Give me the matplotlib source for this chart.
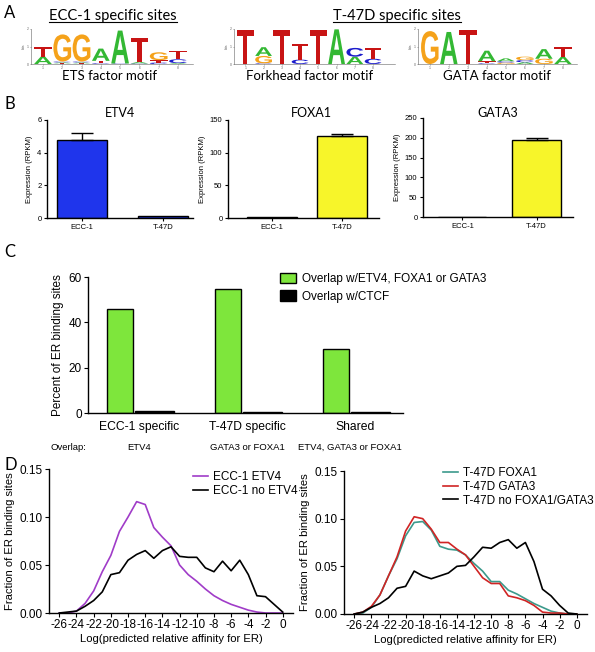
import matplotlib
matplotlib.use('Agg')
import matplotlib.pyplot as plt
import matplotlib.transforms as mtransforms
from matplotlib.textpath import TextPath
from matplotlib.font_manager import FontProperties
from matplotlib.patches import PathPatch
from matplotlib.lines import Line2D

plt.rcParams['font.family'] = ['Liberation Sans', 'DejaVu Sans']
plt.rcParams['axes.unicode_minus'] = False

# ---- panel A: motif logos (letters bottom -> top, heights in bits)
ets_letters = [['A', 'T'], ['T', 'A', 'C', 'G'], ['T', 'A', 'C', 'G'], ['C', 'T', 'A'],
               ['C', 'A'], ['C', 'A', 'T'], ['C', 'T', 'G'], ['A', 'C', 'T']]
ets_heights = [[0.42, 0.55], [0.04, 0.05, 0.05, 1.55], [0.04, 0.05, 0.05, 1.55], [0.04, 0.14, 0.7],
               [0.03, 1.88], [0.03, 0.08, 1.38], [0.08, 0.14, 0.45], [0.05, 0.22, 0.48]]
fkh_letters = [['T'], ['C', 'G', 'A'], ['T'], ['C', 'T'], ['T'], ['A'], ['A', 'C'], ['C', 'T']]
fkh_heights = [[1.94], [0.04, 0.42, 0.5], [1.94], [0.25, 0.9], [1.94], [1.98], [0.42, 0.5], [0.3, 0.6]]
gata_letters = [['G'], ['A'], ['T'], ['C', 'T', 'A'], ['G', 'C', 'A'], ['A', 'C', 'G'], ['G', 'A'], ['A', 'T']]
gata_heights = [[1.88], [1.83], [1.96], [0.04, 0.12, 0.6], [0.08, 0.08, 0.16], [0.1, 0.12, 0.2],
                [0.3, 0.55], [0.4, 0.55]]
base_colors = {'A': '#33b833', 'C': '#1c1ccc', 'G': '#f5a21a', 'T': '#c81414'}

# ---- panel B: expression
groups_b = ['ECC-1', 'T-47D']
etv4_vals = [4.8, 0.1]
etv4_err = [0.4, 0.0]
foxa1_vals = [2.0, 125.0]
foxa1_err = [0.0, 3.0]
gata3_vals = [0.3, 195.0]
gata3_err = [0.0, 4.0]

# ---- panel C: overlap
groups_c = ['ECC-1 specific', 'T-47D specific', 'Shared']
overlap_c = ['ETV4', 'GATA3 or FOXA1', 'ETV4, GATA3 or FOXA1']
tf_overlap = [46.0, 54.5, 28.3]
ctcf_overlap = [0.8, 0.6, 0.3]

# ---- panel D: affinity distributions
affinity = list(range(-26, 1))
ecc_etv4 = [0, 0, 0.002, 0.01, 0.023, 0.043, 0.06, 0.085, 0.10, 0.116, 0.113, 0.089, 0.079,
            0.07, 0.05, 0.04, 0.033, 0.025, 0.018, 0.013, 0.009, 0.006, 0.003, 0.001, 0, 0, 0]
ecc_no_etv4 = [0, 0.001, 0.002, 0.007, 0.013, 0.022, 0.040, 0.042, 0.055, 0.061, 0.065, 0.057,
               0.065, 0.069, 0.059, 0.058, 0.058, 0.047, 0.043, 0.054, 0.044, 0.055, 0.040,
               0.018, 0.017, 0.009, 0.001]
t47d_foxa1 = [0, 0.001, 0.007, 0.02, 0.04, 0.058, 0.082, 0.096, 0.097, 0.088, 0.071, 0.068,
              0.067, 0.062, 0.053, 0.045, 0.034, 0.034, 0.025, 0.021, 0.016, 0.011, 0.007,
              0.003, 0.001, 0, 0]
t47d_gata3 = [0, 0.002, 0.008, 0.02, 0.04, 0.06, 0.087, 0.102, 0.1, 0.089, 0.075, 0.075,
              0.068, 0.062, 0.05, 0.038, 0.032, 0.032, 0.019, 0.017, 0.014, 0.009, 0.002,
              0.001, 0.001, 0, 0]
t47d_none = [0, 0.002, 0.007, 0.011, 0.017, 0.027, 0.029, 0.045, 0.040, 0.037, 0.040, 0.043,
             0.050, 0.051, 0.060, 0.070, 0.069, 0.075, 0.078, 0.069, 0.075, 0.055, 0.026,
             0.019, 0.009, 0.001, 0]

W, H = 595, 652
fig = plt.figure(figsize=(W / 100, H / 100), dpi=100)


def px_axes(l, t, r, b):
    return fig.add_axes([l / W, 1 - b / H, (r - l) / W, (b - t) / H])


def ftext(x, y, s, **kw):
    return fig.text(x / W, 1 - y / H, s, **kw)


calibri = ['Lato', 'DejaVu Sans']

# panel letters
for lab, y in [('A', 13), ('B', 104), ('C', 252), ('D', 465)]:
    ftext(4, y, lab, family=calibri, fontsize=12, va='center', ha='left')

# ---------------- A
logo_fp = FontProperties(family='Liberation Sans', weight='bold')


def draw_letter(ax, ch, x, y, h):
    tp = TextPath((0, 0), ch, size=1, prop=logo_fp)
    bb = tp.get_extents()
    tr = (mtransforms.Affine2D().translate(-bb.x0, -bb.y0)
          .scale(0.92 / bb.width, h / bb.height).translate(x - 0.46, y))
    ax.add_patch(PathPatch(tr.transform_path(tp), fc=base_colors[ch], ec='none'))


def draw_logo(ax, letters, heights, xmax):
    for i, (ls, hs) in enumerate(zip(letters, heights)):
        y0 = 0
        for ch, h in zip(ls, hs):
            draw_letter(ax, ch, i + 1, y0, h)
            y0 += h
    ax.set_xlim(0.38, xmax)
    ax.set_ylim(0, 2)
    for s in ['top', 'right']:
        ax.spines[s].set_visible(False)
    for s in ['left', 'bottom']:
        ax.spines[s].set_linewidth(0.4)
        ax.spines[s].set_color('#666666')
    ax.set_yticks([0, 1, 2])
    ax.set_xticks(range(1, len(letters) + 1))
    ax.tick_params(labelsize=2.5, length=1, width=0.4, colors='#666666', pad=0.5)
    ax.set_ylabel('bits', fontsize=2.5, labelpad=0.5, color='#666666')


ax = px_axes(31, 29, 193, 64)
draw_logo(ax, ets_letters, ets_heights, 8.78)
ax = px_axes(234, 29, 395, 64)
draw_logo(ax, fkh_letters, fkh_heights, 9.2)
ax = px_axes(418, 29, 577, 64)
draw_logo(ax, gata_letters, gata_heights, 8.74)

ftext(110, 76, 'ETS factor motif', family=calibri, fontsize=9.5, ha='center', va='center')
ftext(310, 76, 'Forkhead factor motif', family=calibri, fontsize=9.5, ha='center', va='center')
ftext(497, 76, 'GATA factor motif', family=calibri, fontsize=9.5, ha='center', va='center')
titles = [ftext(113, 16, 'ECC-1 specific sites', family=calibri, fontsize=10.5, ha='center', va='center'),
          ftext(397, 16, 'T-47D specific sites', family=calibri, fontsize=10.5, ha='center', va='center')]
fig.canvas.draw()
inv = fig.transFigure.inverted()
for t in titles:
    bb = t.get_window_extent().transformed(inv)
    fig.add_artist(Line2D([bb.x0, bb.x1], [bb.y0 + 0.001, bb.y0 + 0.001], transform=fig.transFigure,
                          color='black', lw=0.8))


# ---------------- B
def expr_panel(box, vals, errs, color, ylim, yticks, title, xlim, width, title_x):
    ax = px_axes(*box)
    ax.bar(range(len(groups_b)), vals, width=width, color=color, edgecolor='black', linewidth=1.0)
    for i, (v, e) in enumerate(zip(vals, errs)):
        if e > 0:
            ax.errorbar(i, v, yerr=[[0], [e]], color='black', lw=1.0, capsize=8, capthick=1.0)
    ax.set_xlim(*xlim)
    ax.set_ylim(*ylim)
    ax.set_yticks(yticks)
    ax.set_xticks(range(len(groups_b)))
    ax.set_xticklabels(groups_b)
    for s in ['top', 'right']:
        ax.spines[s].set_visible(False)
    for s in ['left', 'bottom']:
        ax.spines[s].set_linewidth(1.0)
    ax.tick_params(labelsize=5.5, length=2.5, width=0.8, pad=1.5)
    ax.set_ylabel('Expression (RPKM)', fontsize=5.5, labelpad=3)
    ftext(title_x, 113, title, family=calibri, fontsize=9, ha='center', va='center')
    return ax


expr_panel((47, 120, 193, 218), etv4_vals, etv4_err, '#1f35ec', (0, 6), [0, 2, 4, 6], 'ETV4',
           (-0.43, 1.37), 0.62, 120)
expr_panel((228, 120, 379, 218), foxa1_vals, foxa1_err, '#f7f52a', (0, 150), [0, 50, 100, 150], 'FOXA1',
           (-0.63, 1.53), 0.71, 311)
expr_panel((423, 118, 573, 217), gata3_vals, gata3_err, '#f7f52a', (0, 250), [0, 50, 100, 150, 200, 250],
           'GATA3', (-0.53, 1.49), 0.65, 498)

# ---------------- C
ax = px_axes(88, 277, 403, 413)
xc = list(range(len(groups_c)))
ax.bar([x - 0.176 for x in xc], tf_overlap, width=0.24, color='#7ee63c', edgecolor='black', linewidth=1.0,
       label='Overlap w/ETV4, FOXA1 or GATA3')
ax.bar([x + 0.14 for x in xc], ctcf_overlap, width=0.36, color='black', edgecolor='black', linewidth=1.0,
       label='Overlap w/CTCF')
ax.set_xlim(-0.47, 2.44)
ax.set_ylim(0, 60)
ax.set_yticks([0, 20, 40, 60])
ax.set_xticks(xc)
ax.set_xticklabels(groups_c, fontsize=8.7)
for s in ['top', 'right']:
    ax.spines[s].set_visible(False)
for s in ['left', 'bottom']:
    ax.spines[s].set_linewidth(1.0)
ax.tick_params(axis='y', labelsize=8.5, length=3, width=0.8, pad=1.5)
ax.tick_params(axis='x', length=0, pad=6)
ax.set_ylabel('Percent of ER binding sites', fontsize=8.5, labelpad=3)
ax.legend(loc='upper left', bbox_to_anchor=(280 / W, 1 - 272.5 / H), bbox_transform=fig.transFigure,
          borderaxespad=0, borderpad=0, frameon=False, fontsize=8.5, handlelength=1.35, handleheight=0.93,
          handletextpad=0.5, labelspacing=0.5)
ftext(50, 447, 'Overlap:', fontsize=6.8, ha='left', va='center')
for x, s in zip([139, 247, 350], overlap_c):
    ftext(x, 447, s, fontsize=6.8, ha='center', va='center')


# ---------------- D
def dist_panel(box, series, legend_xy):
    ax = px_axes(*box)
    for ys, c, lab in series:
        ax.plot(affinity, ys, color=c, lw=1.2, label=lab)
    ax.set_xlim(-27.2, 1.2)
    ax.set_ylim(0, 0.15)
    ax.set_yticks([0, 0.05, 0.10, 0.15])
    ax.set_yticklabels(['0.00', '0.05', '0.10', '0.15'])
    ax.set_xticks(range(-26, 1, 2))
    for s in ['top', 'right']:
        ax.spines[s].set_visible(False)
    for s in ['left', 'bottom']:
        ax.spines[s].set_linewidth(1.0)
    ax.tick_params(labelsize=8.5, length=3, width=0.8, pad=1.5)
    ax.set_xlabel('Log(predicted relative affinity for ER)', fontsize=8.1, labelpad=2)
    ax.set_ylabel('Fraction of ER binding sites', fontsize=8.1, labelpad=3)
    ax.legend(loc='upper left', bbox_to_anchor=(legend_xy[0] / W, 1 - legend_xy[1] / H),
              bbox_transform=fig.transFigure, borderaxespad=0, borderpad=0, frameon=False, fontsize=8.5,
              handlelength=1.3, handletextpad=0.4, labelspacing=0.15)


dist_panel((49, 469, 293, 613), [(ecc_etv4, '#a03cc8', 'ECC-1 ETV4'),
                                 (ecc_no_etv4, 'black', 'ECC-1 no ETV4')], (193, 471))
dist_panel((344, 471, 587, 614), [(t47d_foxa1, '#3c9a8c', 'T-47D FOXA1'),
                                  (t47d_gata3, '#d02424', 'T-47D GATA3'),
                                  (t47d_none, 'black', 'T-47D no FOXA1/GATA3')], (443, 467))

fig.savefig('out.png', dpi=100)
